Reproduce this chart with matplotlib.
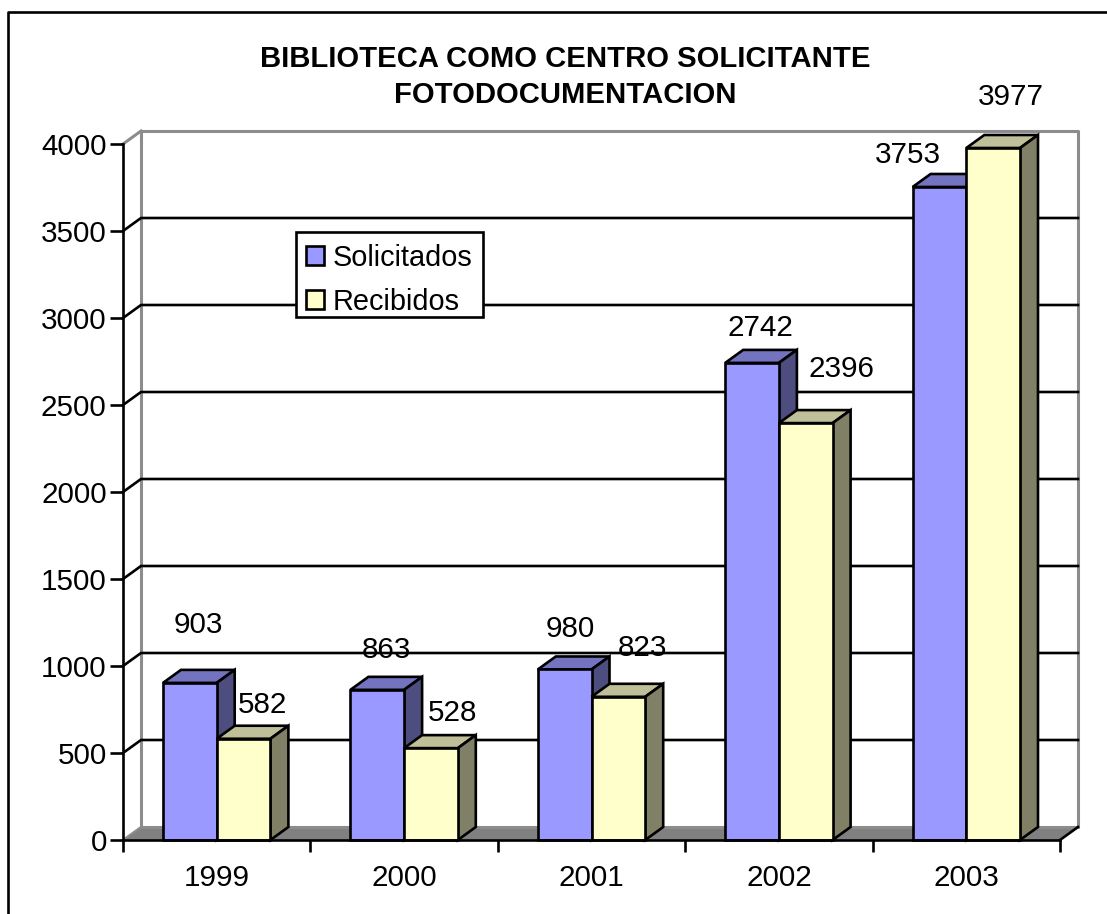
import matplotlib
matplotlib.use('Agg')
import matplotlib.pyplot as plt
from matplotlib.lines import Line2D
from matplotlib.patches import Polygon, Patch, Rectangle

plt.rcParams['font.family'] = ['Liberation Sans', 'DejaVu Sans']

anios = ['1999', '2000', '2001', '2002', '2003']
solicitados = [903, 863, 980, 2742, 3753]
recibidos = [582, 528, 823, 2396, 3977]
ticks_y = [0, 500, 1000, 1500, 2000, 2500, 3000, 3500, 4000]

W, H = 1107, 914
FS = 21.3
fig = plt.figure(figsize=(W / 100, H / 100), dpi=100)
ax = fig.add_axes([123 / W, 1 - 840 / H, 937 / W, 696 / H])
ax.set_xlim(0, 5)
ax.set_ylim(0, 4000)
ax.patch.set_alpha(0)

# profundidad del efecto 3D en unidades de los ejes
px_x = 5 / 937
px_y = 4000 / 696
dx = 18 * px_x
dy = 13 * px_y
ancho = 53.7 * px_x
margen = 40 * px_x
LW = 1.9


def caja(x, valor, frente, arriba, lado, z):
    ax.add_patch(Polygon([(x, 0), (x + ancho, 0), (x + ancho, valor), (x, valor)],
                         fc=frente, ec='black', lw=LW, clip_on=False, zorder=z + 0.2))
    ax.add_patch(Polygon([(x, valor), (x + ancho, valor), (x + ancho + dx, valor + dy), (x + dx, valor + dy)],
                         fc=arriba, ec='black', lw=LW, clip_on=False, zorder=z))
    ax.add_patch(Polygon([(x + ancho, 0), (x + ancho + dx, dy), (x + ancho + dx, valor + dy), (x + ancho, valor)],
                         fc=lado, ec='black', lw=LW, clip_on=False, zorder=z + 0.1))


# piso y paredes
ax.add_patch(Polygon([(0, 0), (5, 0), (5 + dx, dy), (dx, dy)], fc='#808080', ec='#808080',
                     lw=1, clip_on=False, zorder=1))
ax.plot([5, 5 + dx], [0, dy], color='black', lw=LW, clip_on=False, zorder=1.5)
ax.plot([dx, dx, 5 + dx, 5 + dx, dx], [dy, 4000 + dy, 4000 + dy, dy, dy], color='#8c8c8c',
        lw=2.2, clip_on=False, zorder=1.2)
for v in ticks_y[1:-1]:
    ax.plot([0, dx, 5 + dx], [v, v + dy, v + dy], color='black', lw=LW, clip_on=False, zorder=1.4)
ax.plot([0, dx], [4000, 4000 + dy], color='#8c8c8c', lw=2.2, clip_on=False, zorder=1.2)
ax.plot([0, dx], [0, dy], color='#8c8c8c', lw=1.5, clip_on=False, zorder=1.3)

for i in range(len(anios)):
    x = i + margen
    caja(x, solicitados[i], '#9999FF', '#7373BF', '#4D4D80', 3 + i)
    caja(x + ancho, recibidos[i], '#FFFFCC', '#BFBF99', '#808066', 3.5 + i)

# etiquetas de valor, desplazadas a mano como en el original
off_sol = [(8, 58), (9, 40), (6, 40), (8, 35), (-32, 32)]
off_rec = [(19, 34), (22, 35), (24, 49), (36, 54), (18, 51)]
for i in range(len(anios)):
    ax.annotate(str(solicitados[i]), (i + margen + ancho / 2, solicitados[i]),
                xytext=(off_sol[i][0] * 0.72, off_sol[i][1] * 0.72), textcoords='offset points',
                ha='center', va='center', fontsize=FS, annotation_clip=False, zorder=20)
    ax.annotate(str(recibidos[i]), (i + margen + 1.5 * ancho, recibidos[i]),
                xytext=(off_rec[i][0] * 0.72, off_rec[i][1] * 0.72), textcoords='offset points',
                ha='center', va='center', fontsize=FS, annotation_clip=False, zorder=20)

# ejes
for s in ['top', 'right']:
    ax.spines[s].set_visible(False)
for s in ['left', 'bottom']:
    ax.spines[s].set_linewidth(LW)
    ax.spines[s].set_zorder(15)
ax.set_yticks(ticks_y)
ax.set_yticklabels([str(t) for t in ticks_y])
ax.set_xticks(range(6))
ax.set_xticklabels([])
ax.set_xticks([i + 0.5 for i in range(5)], minor=True)
ax.set_xticklabels(anios, minor=True)
ax.tick_params(axis='y', length=9.4, width=LW, labelsize=FS, pad=2.3)
ax.tick_params(axis='x', which='major', length=8.6, width=LW)
ax.tick_params(axis='x', which='minor', length=0, labelsize=FS, pad=17)

# leyenda: el recuadro va aparte para poder ajustar margenes distintos
ax.add_patch(Rectangle((296 / W, 1 - 317 / H), 187 / W, 85 / H, transform=fig.transFigure,
                       fc='white', ec='black', lw=LW, clip_on=False, zorder=17))
leyenda = ax.legend(handles=[Patch(fc='#9999FF', ec='black', lw=LW, label='Solicitados'),
                             Patch(fc='#FFFFCC', ec='black', lw=LW, label='Recibidos')],
                    loc='upper left', bbox_to_anchor=(306 / W, 1 - 243.5 / H),
                    bbox_transform=fig.transFigure, fontsize=20.8, frameon=False,
                    handlelength=0.62, handleheight=0.62, handletextpad=0.3,
                    labelspacing=0.56, borderaxespad=0, borderpad=0)
leyenda.set_zorder(18)

fig.text(565 / W, 1 - 77 / H, 'BIBLIOTECA COMO CENTRO SOLICITANTE\nFOTODOCUMENTACION',
         ha='center', va='center', fontsize=21.1, fontweight='bold', linespacing=1.37)

# marco exterior, cortado por la derecha y abajo
fig.add_artist(Line2D([8 / W, 8 / W, 1], [0, 1 - 12 / H, 1 - 12 / H], color='black', lw=LW))

fig.savefig('out.png', dpi=100)
